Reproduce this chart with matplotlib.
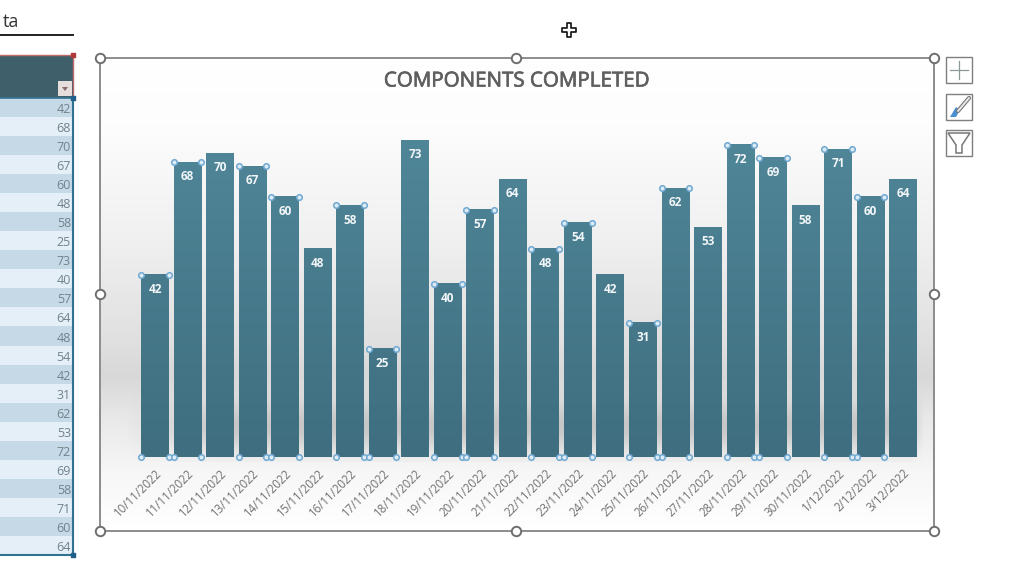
import numpy as np
import matplotlib
matplotlib.use("Agg")
import matplotlib.pyplot as plt
import matplotlib.patheffects as pe
from matplotlib.colors import LinearSegmentedColormap
from matplotlib.patches import Rectangle, Polygon

dates = ["10/11/2022","11/11/2022","12/11/2022","13/11/2022","14/11/2022","15/11/2022",
         "16/11/2022","17/11/2022","18/11/2022","19/11/2022","20/11/2022","21/11/2022",
         "22/11/2022","23/11/2022","24/11/2022","25/11/2022","26/11/2022","27/11/2022",
         "28/11/2022","29/11/2022","30/11/2022","1/12/2022","2/12/2022","3/12/2022"]
completed = [42,68,70,67,60,48,58,25,73,40,57,64,48,54,42,31,62,53,72,69,58,71,60,64]
selected = [1,1,0,1,1,0,1,1,0,1,1,0,1,1,0,1,1,0,1,1,0,1,1,0]
title = "COMPONENTS COMPLETED"

W, H = 1024, 576
plt.rcParams['font.family'] = ['Open Sans', 'DejaVu Sans']
fig = plt.figure(figsize=(W/100, H/100), dpi=100, facecolor='white')

def axpx(x0, y0, x1, y1, **kw):
    return fig.add_axes([x0/W, 1-y1/H, (x1-x0)/W, (y1-y0)/H], **kw)

# ---------- chart-area background ----------
bg = axpx(100, 58, 934, 531, zorder=0)
bg.axis('off')
bgcmap = LinearSegmentedColormap.from_list('bg', [
    (0.00, '#ffffff'), (0.14, '#fdfdfd'), (0.40, '#efefef'),
    (0.60, '#e0e0e0'), (0.675, '#d8d8d8'), (0.76, '#e8e8e8'),
    (0.88, '#f7f7f7'), (1.00, '#ffffff')])
bg.imshow(np.linspace(0, 1, 473)[:, None], aspect='auto', cmap=bgcmap,
          extent=(0, 1, 0, 1), origin='upper')
bg.set_xlim(0, 1); bg.set_ylim(0, 1)

# soft shadow band behind the lower bars
sh = axpx(125, 385, 925, 462, zorder=1)
sh.axis('off')
yy, xx = np.mgrid[0:1:80j, 0:1:400j]
alpha = 0.38*np.exp(-((yy-0.55)/0.3)**2)*np.clip(xx/0.12, 0, 1)*np.clip((1-xx)/0.02, 0, 1)
rgba = np.zeros((80, 400, 4)); rgba[..., :3] = 0.55; rgba[..., 3] = alpha
sh.imshow(rgba, aspect='auto', extent=(0, 1, 0, 1))

# ---------- bars ----------
unit = 32.52
ax = axpx(155-unit/2, 110, 903+unit/2, 457, zorder=2)
ax.patch.set_alpha(0)
x = np.arange(len(completed))
barcmap = LinearSegmentedColormap.from_list('bar', ['#4f8698', '#3e6e7f'])
bars = ax.bar(x, completed, width=0.85, color='none', linewidth=0)
for b in bars:
    frac = b.get_height()/73
    ax.imshow(np.linspace(0, 1, 256)[:, None]*frac + (1-frac),
              cmap=barcmap, vmin=0, vmax=1, aspect='auto', origin='upper',
              interpolation='bilinear',
              extent=(b.get_x(), b.get_x()+b.get_width(), 0, b.get_height()), zorder=2)
ax.set_xlim(-0.5, len(completed)-0.5)
ax.set_ylim(0, 80)
for s in ax.spines.values():
    s.set_visible(False)
ax.set_yticks([])
ax.set_xticks(x)
ax.set_xticklabels(dates, rotation=45, ha='right', va='top', rotation_mode='anchor',
                   fontsize=8.3, color='#707070', fontweight='medium')
ax.tick_params(axis='x', length=0, pad=7)
for xi, v in zip(x, completed):
    ax.annotate(str(v), (xi, v), xytext=(0, -10.5), textcoords='offset points', ha='center',
                va='center', color='#f2f6f8', fontsize=8.5, fontweight='bold', zorder=4)
for xi, v, s in zip(x, completed, selected):
    if s:
        ax.scatter([xi-0.425, xi+0.425, xi-0.425, xi+0.425], [v, v, 0, 0], s=16, zorder=5,
                   facecolor='#dcebf5', edgecolor='#6fa8d0', linewidth=1.1, clip_on=False)

# ---------- surrounding window furniture (pixel coordinates) ----------
ov = axpx(0, 0, W, H, zorder=6)
ov.set_xlim(0, W); ov.set_ylim(H, 0); ov.axis('off'); ov.patch.set_alpha(0)

# frame & handles
ov.add_patch(Rectangle((100, 58), 834, 473, fill=False, ec='#8c8c8c', lw=1.4))
hx = [100, 516, 934, 100, 934, 100, 516, 934]
hy = [58, 58, 58, 294, 294, 531, 531, 531]
ov.scatter(hx, hy, s=46, facecolor='white', edgecolor='#6e6e6e', linewidth=1.4, zorder=7)
ov.text(516, 81, title, ha='center', va='center', fontsize=14.8, color='#5f5f5f',
        path_effects=[pe.withStroke(linewidth=0.5, foreground='#5f5f5f')])

# side table
ov.text(19, 22, "ta", ha='right', va='center', fontsize=13, color='#333333')
ov.plot([0, 73], [35, 35], color='#222222', lw=1.4)
ov.add_patch(Rectangle((-2, 55), 75, 43, fc='#3f5f6b', ec='#c06a6a', lw=1))
ov.add_patch(Rectangle((58, 81), 14, 15, fc='#e6dedd', ec='none'))
ov.add_patch(Polygon([[62, 87], [68, 87], [65, 91]], fc='#8a6a6a', ec='none'))
row_h = 19.04
for i, v in enumerate(completed):
    y0 = 98 + i*row_h
    ov.add_patch(Rectangle((0, y0), 73, row_h, fc='#c5d9e6' if i % 2 == 0 else '#e4eff8', ec='none'))
    ov.text(71, y0+row_h/2+2, str(v), ha='right', va='center', fontsize=9, color='#71828c')
ov.plot([73, 73, 0], [98, 555, 555], color='#2f7391', lw=1.5)
ov.plot([0, 73], [98, 98], color='#2f7391', lw=1.2)
ov.scatter([73, 73, 73], [55, 98, 555], s=9, marker='s',
           c=['#b03a3a', '#1f5f8a', '#1f5f8a'], zorder=8)

# chart buttons
for y0 in (57, 94, 130):
    ov.add_patch(Rectangle((946, y0), 26, 26, fc='white', ec='#7f7f7f', lw=1))
ov.plot([950, 968], [70, 70], color='#8a9a9a', lw=0.9)
ov.plot([959, 959], [61, 79], color='#8a9a9a', lw=0.9)
ov.plot([958, 969], [111, 98], color='#777777', lw=3, solid_capstyle='round')
ov.plot([958, 969], [111, 98], color='#e8e8e8', lw=1.4, solid_capstyle='round')
ov.add_patch(Polygon([[950, 117], [956, 117], [960, 110], [956, 107], [953, 112]], fc='#4a8fd0', ec='none'))
ov.add_patch(Polygon([[948, 133], [970, 133], [962, 145], [962, 153], [956, 153], [956, 145]],
                     fc='white', ec='#777777', lw=1.1))

# mouse cursor
ov.scatter([569], [30], s=95, marker='P', facecolor='white', edgecolor='#111111', linewidth=1.2, zorder=9)

fig.savefig('out.png', dpi=100)
